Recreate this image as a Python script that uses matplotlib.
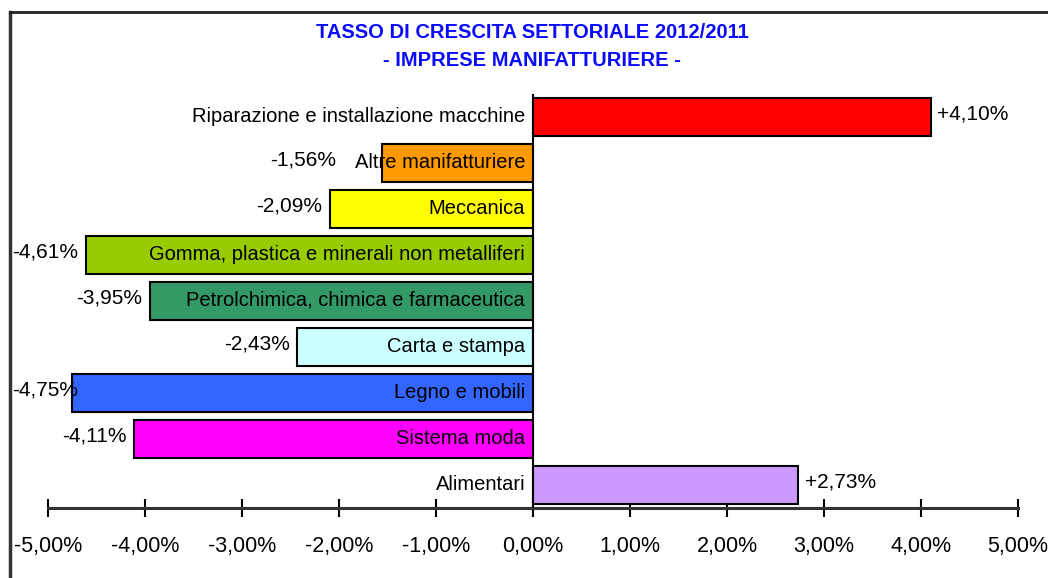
import matplotlib.pyplot as plt

plt.rcParams['font.family'] = ['Liberation Sans', 'DejaVu Sans']

# data (top to bottom)
sectors = ["Riparazione e installazione macchine", "Altre manifatturiere", "Meccanica",
           "Gomma, plastica e minerali non metalliferi", "Petrolchimica, chimica e farmaceutica",
           "Carta e stampa", "Legno e mobili", "Sistema moda", "Alimentari"]
growth = [4.10, -1.56, -2.09, -4.61, -3.95, -2.43, -4.75, -4.11, 2.73]
colors = ["#FF0000", "#FF9900", "#FFFF00", "#99CC00", "#339966",
          "#CCFFFF", "#3366FF", "#FF00FF", "#CC99FF"]
ticks = [-5, -4, -3, -2, -1, 0, 1, 2, 3, 4, 5]
tick_labels = ["-5,00%", "-4,00%", "-3,00%", "-2,00%", "-1,00%", "0,00%",
               "1,00%", "2,00%", "3,00%", "4,00%", "5,00%"]

W, H = 1048, 578
fig = plt.figure(figsize=(W / 100, H / 100), dpi=100)

# outer frame (left and top edges only visible)
fig.add_artist(plt.Line2D([10 / W, 10 / W], [0, 1 - 12 / H], color="#333333", lw=2.5))
fig.add_artist(plt.Line2D([10 / W, 1], [1 - 12 / H, 1 - 12 / H], color="#222222", lw=2))

ax = fig.add_axes([48 / W, 1 - 508 / H, (1018 - 48) / W, (508 - 94) / H])
ypos = list(range(len(sectors)))
ax.barh(ypos, growth, height=0.82, color=colors, edgecolor="black", linewidth=1.5, zorder=2)
ax.set_ylim(len(sectors) - 0.5, -0.5)
ax.set_xlim(-5, 5)
ax.axvline(0, color="black", lw=1.5, zorder=3)

for i, (name, v) in enumerate(zip(sectors, growth)):
    ax.text(-0.08, i - 0.02, name, ha="right", va="center", fontsize=14.5, zorder=4)
    lab = ("+" if v > 0 else "") + f"{v:.2f}".replace(".", ",") + "%"
    if v > 0:
        ax.text(v + 0.07, i - 0.06, lab, ha="left", va="center", fontsize=15, zorder=4)
    else:
        # the short orange bar: label pushed left of the sector name, as in the original;
        # long bars: label kept inside the chart frame
        x = v - 0.08 if name != "Altre manifatturiere" else -2.03
        x = max(x, -4.69)
        ax.text(x, i - 0.06, lab, ha="right", va="center", fontsize=15, zorder=4)

for s in ["left", "right", "top"]:
    ax.spines[s].set_visible(False)
ax.spines["bottom"].set_linewidth(2.2)
ax.spines["bottom"].set_color("#333333")
ax.set_yticks([])
ax.set_xticks(ticks)
ax.set_xticklabels(tick_labels, fontsize=15.5)
ax.tick_params(axis="x", direction="inout", length=13, width=1.5, pad=14)

fig.text(532 / W, 1 - 32 / H, "TASSO DI CRESCITA SETTORIALE 2012/2011", ha="center", va="center",
         fontsize=14.5, fontweight="bold", color="#0A0AFF")
fig.text(532 / W, 1 - 60 / H, "- IMPRESE MANIFATTURIERE -", ha="center", va="center",
         fontsize=14.5, fontweight="bold", color="#0A0AFF")

fig.savefig("out.png", dpi=100)
